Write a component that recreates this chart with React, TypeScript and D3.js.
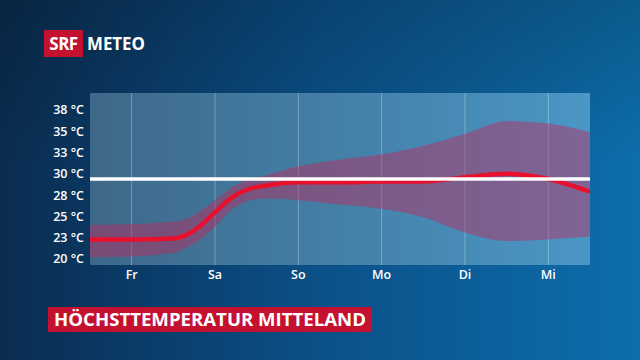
import React from "react";
import * as d3 from "d3";

const days = ["Fr", "Sa", "So", "Mo", "Di", "Mi"];
const t = [-0.5, 0, 0.5, 0.65, 0.8, 1.0, 1.2, 1.4, 1.6, 2, 2.5, 3, 3.5, 4, 4.5, 5, 5.5];
const median = [22.3, 22.3, 22.4, 22.8, 23.7, 25.5, 27.2, 28.2, 28.6, 29.0, 29.0, 29.1, 29.1, 29.6, 30.0, 29.4, 27.9];
const upper = [24.0, 24.1, 24.4, 24.7, 25.5, 26.9, 28.4, 29.3, 29.8, 30.9, 31.7, 32.3, 33.3, 34.7, 36.2, 35.9, 34.9];
const lower = [20.2, 20.3, 20.7, 21.3, 22.1, 23.8, 25.8, 26.8, 27.1, 26.9, 26.4, 25.9, 24.9, 23.1, 22.1, 22.3, 22.6];
const yTicks = [20, 22.5, 25, 27.5, 30, 32.5, 35, 37.5];
const reference = 29.4;
const title = "HÖCHSTTEMPERATUR MITTELAND";

const W = 640, H = 360;
const plot = { l: 90, r: 590, t: 93, b: 265 };

export default function App() {
  const x = d3.scaleLinear().domain([-0.5, 5.5]).range([plot.l, plot.r]);
  const y = d3.scaleLinear().domain([20, 37.5]).range([259, 110]);
  const idx = t.map((_, i) => i);
  const area = d3.area<number>().x(i => x(t[i])).y0(i => y(lower[i])).y1(i => y(upper[i])).curve(d3.curveMonotoneX);
  const line = d3.line<number>().x(i => x(t[i])).y(i => y(median[i])).curve(d3.curveMonotoneX);
  const font = "'Open Sans', 'Noto Sans', sans-serif";
  return (
    <svg width={W} height={H} style={{ position: "absolute", left: 0, top: 0, display: "block" }} fontFamily={font}>
      <defs>
        <linearGradient id="bg" x1="0" x2="1" y1="0" y2="0">
          <stop offset="0" stopColor="#0a2c4f" />
          <stop offset="0.5" stopColor="#0b5088" />
          <stop offset="1" stopColor="#0d6eab" />
        </linearGradient>
        <linearGradient id="bgv" x1="0" x2="0" y1="0" y2="1">
          <stop offset="0" stopColor="#000" stopOpacity="0.18" />
          <stop offset="0.45" stopColor="#000" stopOpacity="0" />
        </linearGradient>
        <linearGradient id="pl" x1="0" x2="1" y1="0" y2="0">
          <stop offset="0" stopColor="#3e6889" />
          <stop offset="1" stopColor="#4a97c6" />
        </linearGradient>
        <clipPath id="clip"><rect x={plot.l} y={plot.t} width={plot.r - plot.l} height={plot.b - plot.t} /></clipPath>
      </defs>
      <rect width={W} height={H} fill="url(#bg)" />
      <rect width={W} height={H} fill="url(#bgv)" />
      <rect x={plot.l} y={plot.t} width={plot.r - plot.l} height={plot.b - plot.t} fill="url(#pl)" />
      {days.map((d, i) => (
        <line key={d} x1={x(i)} x2={x(i)} y1={plot.t} y2={plot.b} stroke="#fff" strokeOpacity={0.3} strokeWidth={1} />
      ))}
      <g clipPath="url(#clip)">
        <path d={area(idx) || ""} fill="rgb(190,40,90)" fillOpacity={0.45} />
        <path d={line(idx) || ""} fill="none" stroke="#e8112d" strokeWidth={4.5} />
      </g>
      <line x1={plot.l} x2={plot.r} y1={y(reference)} y2={y(reference)} stroke="#fff" strokeWidth={3.5} />
      {yTicks.map(v => (
        <text key={v} x={84} y={y(v)} dy="0.35em" textAnchor="end" fill="#fff" fontSize={12.5} fontWeight={600}>
          {Math.round(v)} °C
        </text>
      ))}
      {days.map((d, i) => (
        <text key={d} x={x(i)} y={275} dy="0.35em" textAnchor="middle" fill="#fff" fontSize={12.5} fontWeight={600}>{d}</text>
      ))}
      <rect x={44} y={30} width={39} height={27} fill="#c4112f" />
      <text x={63.5} y={43.5} dy="0.36em" textAnchor="middle" fill="#fff" fontSize={17} fontWeight={700} letterSpacing={-0.5}>SRF</text>
      <text x={87} y={43.5} dy="0.36em" fill="#fff" fontSize={17} fontWeight={700} textLength={58} lengthAdjust="spacingAndGlyphs">METEO</text>
      <rect x={48} y={307} width={324} height={25} fill="#c4112f" />
      <text x={54} y={319.5} dy="0.36em" fill="#fff" fontSize={17} fontWeight={700} textLength={312} lengthAdjust="spacingAndGlyphs">{title}</text>
    </svg>
  );
}
